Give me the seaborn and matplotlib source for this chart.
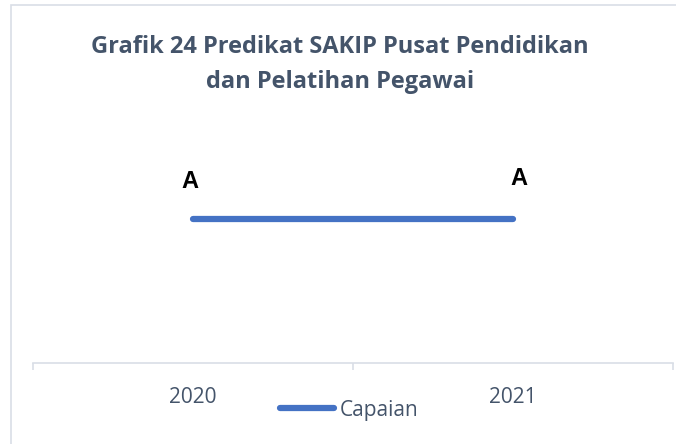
import seaborn as sns
import matplotlib.pyplot as plt
import pandas as pd
from matplotlib.patches import Rectangle

years = ["2020", "2021"]
nilai = [1, 1]
predikat = ["A", "A"]
seri = "Capaian"

df = pd.DataFrame({"tahun": years, "nilai": nilai, "seri": seri})

sns.set_style("white")
plt.rcParams['font.family'] = ['Open Sans', 'DejaVu Sans']

fig = plt.figure(figsize=(6.76, 4.44), dpi=100)
# bingkai chart
fig.patches.append(Rectangle((11 / 676, -0.1), 1.0, 1 - 5 / 444 + 0.1, transform=fig.transFigure,
                             fill=False, edgecolor='#D9DEE6', linewidth=1.2))

ax = fig.add_axes([33 / 676, 1 - 363 / 444, (673 - 33) / 676, (363 - 75) / 444])
sns.lineplot(data=df, x="tahun", y="nilai", hue="seri", palette=['#4472C4'], linewidth=4.5,
             solid_capstyle='round', ax=ax, legend=False)
ax.set_xlim(-0.5, 1.5)
ax.set_ylim(0, 2)
ax.set_yticks([])
ax.set_xlabel("")
ax.set_ylabel("")
for s in ['top', 'right', 'left']:
    ax.spines[s].set_visible(False)
ax.spines['bottom'].set_color('#D9DEE6')
ax.spines['bottom'].set_linewidth(1.2)
ax.set_xticks([0, 1])
ax.set_xticks([-0.5, 0.5, 1.5], minor=True)
ax.tick_params(axis='x', which='both', bottom=True)
ax.tick_params(axis='x', which='major', length=0, pad=17, labelsize=15, labelcolor='#44546A')
ax.tick_params(axis='x', which='minor', length=5, width=1.2, color='#D9DEE6', direction='out')

offs = [(-2, 27), (4, 29)]
for i, (lab, o) in enumerate(zip(predikat, offs)):
    ax.annotate(lab, (i, nilai[i]), xytext=o, textcoords='offset points', ha='center', va='center',
                fontsize=17, fontweight='bold', color='black', family=['Liberation Sans'])

fig.text(340 / 676, 1 - 47 / 444, "Grafik 24 Predikat SAKIP Pusat Pendidikan", ha='center', va='center',
         fontsize=17, fontweight='bold', color='#44546A')
fig.text(340 / 676, 1 - 82 / 444, "dan Pelatihan Pegawai", ha='center', va='center',
         fontsize=17, fontweight='bold', color='#44546A')

h = plt.Line2D([], [], color='#4472C4', linewidth=4.5, solid_capstyle='round')
fig.legend([h], [seri], loc='center', bbox_to_anchor=(349 / 676, 1 - 410 / 444), frameon=False,
           fontsize=15, labelcolor='#44546A', handlelength=2.6, handletextpad=0.25)

fig.savefig("out.png", dpi=100)
